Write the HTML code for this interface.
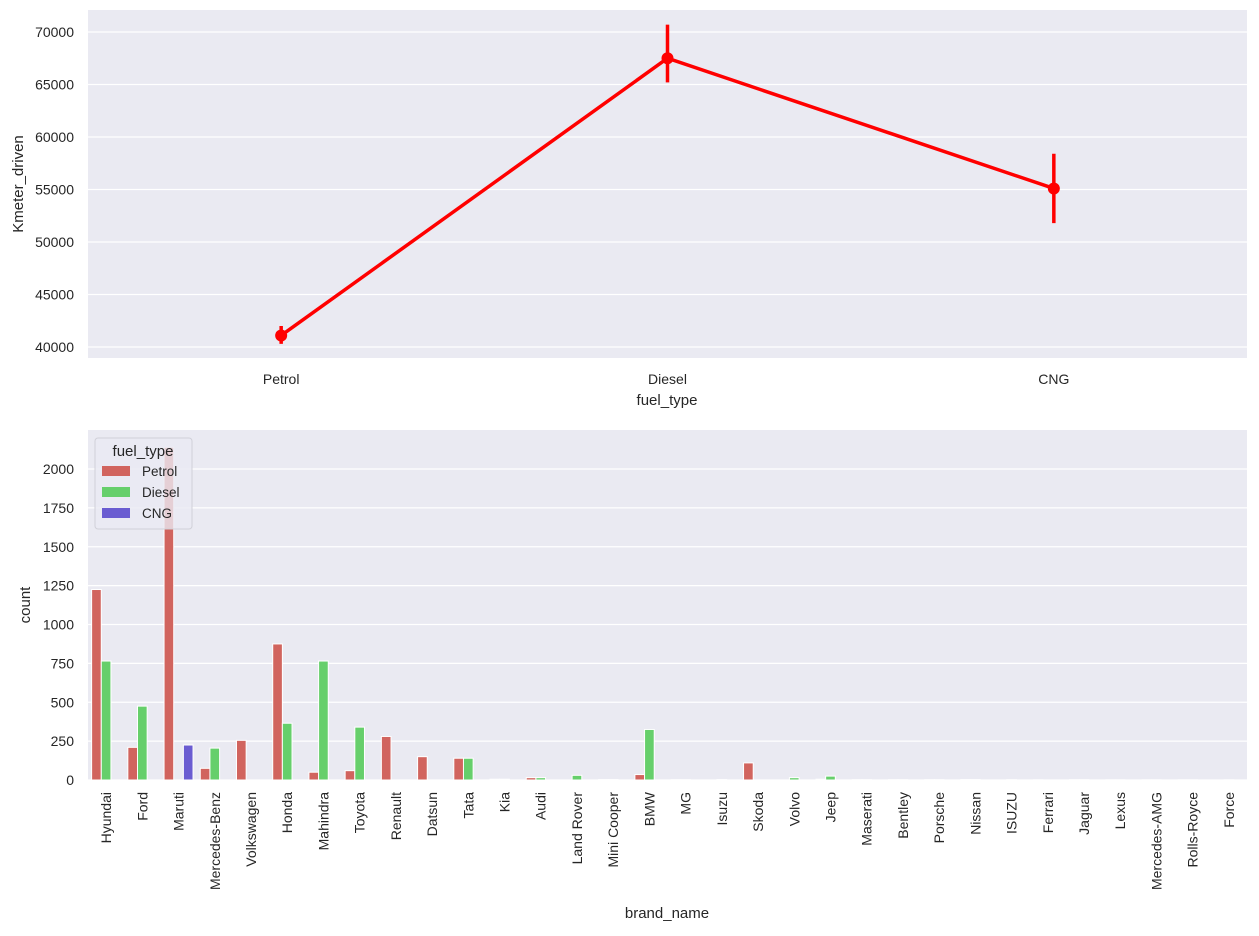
<!DOCTYPE html>
<html><head><meta charset="utf-8"><style>
body{margin:0;background:#fff;font-family:"Liberation Sans",sans-serif}
svg text{font-family:"Liberation Sans",sans-serif;fill:#262626}
</style></head><body>
<svg id="c" width="1259" height="931" xmlns="http://www.w3.org/2000/svg"></svg>
<script>
const fuelCats=["Petrol","Diesel","CNG"];
const kmMean=[41100,67500,55100];
const kmLo=[40300,65200,51800];
const kmHi=[42000,70700,58400];
const topTicks=[40000,45000,50000,55000,60000,65000,70000];
const brands=["Hyundai","Ford","Maruti","Mercedes-Benz","Volkswagen","Honda","Mahindra","Toyota","Renault","Datsun","Tata","Kia","Audi","Land Rover","Mini Cooper","BMW","MG","Isuzu","Skoda","Volvo","Jeep","Maserati","Bentley","Porsche","Nissan","ISUZU","Ferrari","Jaguar","Lexus","Mercedes-AMG","Rolls-Royce","Force"];
const petrolCounts=[1225,210,2140,75,255,875,50,60,280,150,140,5,15,0,3,35,2,0,110,0,5,2,2,2,3,0,1,2,1,1,1,0];
const dieselCounts=[765,475,0,205,0,365,765,340,0,0,140,5,15,30,3,325,2,3,0,15,25,2,2,2,3,2,0,2,1,1,1,1];
const cngCounts=[0,0,225,0,0,0,0,0,0,0,0,0,0,0,0,0,0,0,0,0,0,0,0,0,0,0,0,0,0,0,0,0];
const botTicks=[0,250,500,750,1000,1250,1500,1750,2000];
const NS="http://www.w3.org/2000/svg";
const svg=document.getElementById('c');
function mk(t,a,p){const e=document.createElementNS(NS,t);for(const k in a)e.setAttribute(k,a[k]);(p||svg).appendChild(e);return e;}
const L=88,R=1247;
// top
const tT=10,tB=358;
const yTop=v=>347-(v-40000)*0.0105;
const xTop=i=>L+(i+0.5)*(R-L)/3;
let bg=mk('rect',{x:L,y:tT,width:R-L,height:tB-tT,fill:'#eaeaf2'});


topTicks.forEach(v=>{const y=yTop(v);
 let g=mk('line',{x1:L,x2:R,y1:y,y2:y,stroke:'#fff','stroke-width':1.2});
 
 let t=mk('text',{x:L-14,y:y+5,'text-anchor':'end','font-size':14});t.textContent=v;
 });
fuelCats.forEach((c,i)=>{let t=mk('text',{x:xTop(i),y:384,'text-anchor':'middle','font-size':14});t.textContent=c;
 });
let pl=mk('polyline',{points:kmMean.map((v,i)=>xTop(i)+','+yTop(v)).join(' '),fill:'none',stroke:'#ff0000','stroke-width':3.5});

kmMean.forEach((v,i)=>{
 let e=mk('line',{x1:xTop(i),x2:xTop(i),y1:yTop(kmLo[i]),y2:yTop(kmHi[i]),stroke:'#ff0000','stroke-width':3.5});
 
 let p=mk('circle',{cx:xTop(i),cy:yTop(v),r:6,fill:'#ff0000'});
 });
let yl=mk('text',{x:23,y:184,'text-anchor':'middle','font-size':15,transform:'rotate(-90 23 184)'});yl.textContent='Kmeter_driven';

let xl=mk('text',{x:667,y:405,'text-anchor':'middle','font-size':15});xl.textContent='fuel_type';

// bottom
const bT=430,bB=780;
const yBot=v=>bB-v*0.1555;
const cw=(R-L)/brands.length, bw=cw*0.8/3;
let bg2=mk('rect',{x:L,y:bT,width:R-L,height:bB-bT,fill:'#eaeaf2'});

botTicks.forEach(v=>{const y=yBot(v);
 let g=mk('line',{x1:L,x2:R,y1:y,y2:y,stroke:'#fff','stroke-width':1.2});
 
 let t=mk('text',{x:L-14,y:y+5,'text-anchor':'end','font-size':14});t.textContent=v;
 });
const series=[[petrolCounts,'#d1645e','petrol'],[dieselCounts,'#66cf6b','diesel'],[cngCounts,'#6a5cd1','cng']];
brands.forEach((b,i)=>{
 const cx=L+(i+0.5)*cw;
 series.forEach((s,k)=>{const v=s[0][i];if(v<=0)return;
  const x=cx-1.5*bw+k*bw;
  let r=mk('rect',{x:x,y:yBot(v),width:bw,height:bB-yBot(v),fill:s[1],stroke:'#fff','stroke-width':1});
  });
 let t=mk('text',{x:cx+5,y:792,'text-anchor':'end','font-size':14,transform:'rotate(-90 '+(cx+5)+' 792)'});t.textContent=b;
 });
let yl2=mk('text',{x:30,y:605,'text-anchor':'middle','font-size':15,transform:'rotate(-90 30 605)'});yl2.textContent='count';

let xl2=mk('text',{x:667,y:918,'text-anchor':'middle','font-size':15});xl2.textContent='brand_name';

// legend
let lg=mk('g',{});
mk('rect',{x:95,y:438,width:97,height:91,rx:3,fill:'#eaeaf2','fill-opacity':0.8,stroke:'#d0d0d8'},lg);
let lt=mk('text',{x:143,y:456,'text-anchor':'middle','font-size':15},lg);lt.textContent='fuel_type';

series.forEach((s,k)=>{const y=466+k*21;
 let r=mk('rect',{x:102,y:y,width:28,height:10,fill:s[1]},lg);
 
 let t=mk('text',{x:142,y:y+10,'font-size':13.5},lg);t.textContent=fuelCats[k];
 });
</script>
</body></html>
